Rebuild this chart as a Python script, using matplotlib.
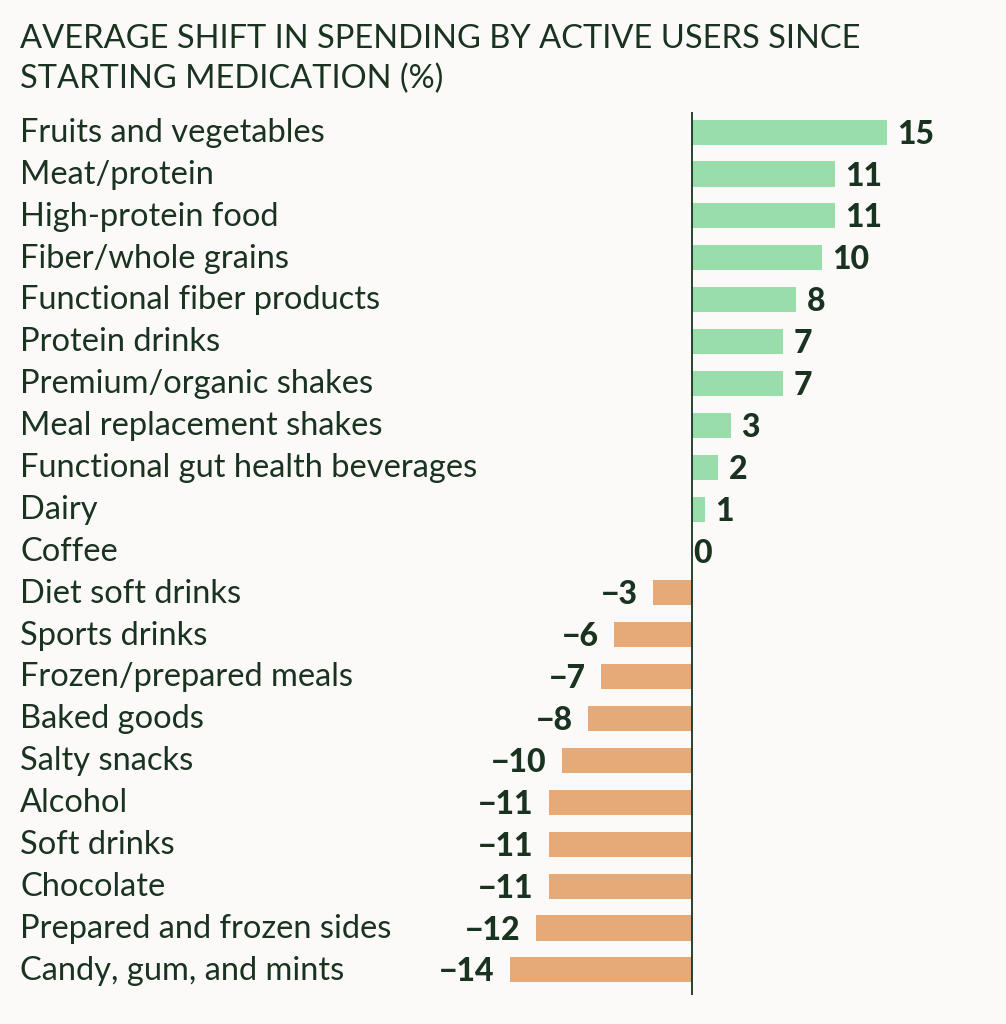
import matplotlib
matplotlib.use("Agg")
import matplotlib.pyplot as plt

categories = ["Fruits and vegetables", "Meat/protein", "High-protein food",
              "Fiber/whole grains", "Functional fiber products", "Protein drinks",
              "Premium/organic shakes", "Meal replacement shakes",
              "Functional gut health beverages", "Dairy", "Coffee",
              "Diet soft drinks", "Sports drinks", "Frozen/prepared meals",
              "Baked goods", "Salty snacks", "Alcohol", "Soft drinks",
              "Chocolate", "Prepared and frozen sides", "Candy, gum, and mints"]
values = [15, 11, 11, 10, 8, 7, 7, 3, 2, 1, 0,
          -3, -6, -7, -8, -10, -11, -11, -11, -12, -14]
title_lines = ["AVERAGE SHIFT IN SPENDING BY ACTIVE USERS SINCE",
               "STARTING MEDICATION (%)"]

BG = "#FBFAF8"
TXT = "#1A3320"
POS = "#99DDAA"
NEG = "#E5AA78"

W, H = 1006, 1024

def main():
    fig = plt.figure(figsize=(W / 100, H / 100), dpi=100, facecolor=BG)
    top, bot = 112, 995
    ax = fig.add_axes([0, 1 - bot / H, 1, (bot - top) / H])
    ax.set_facecolor(BG)

    px = 13.0
    zero = 692
    ax.set_xlim(-zero / px, (W - zero) / px)
    ax.set_ylim(20.6, -0.48)

    ys = list(range(len(categories)))
    colors = [POS if v >= 0 else NEG for v in values]
    ax.barh(ys, values, height=0.6, color=colors)
    ax.axvline(0, color=TXT, lw=1.3)

    for y, cat, v in zip(ys, categories, values):
        ax.text(20 / W, y + 0.02, cat, transform=ax.get_yaxis_transform(),
                ha="left", va="center", fontsize=23.5, color=TXT, family="Lato")
        if v > 0:
            ax.text(v + 0.8, y + 0.05, str(v), ha="left", va="center", fontsize=23,
                    fontweight="black", color=TXT, family="Lato")
        elif v == 0:
            ax.text(0.1, y + 0.05, "0", ha="left", va="center", fontsize=23,
                    fontweight="black", color=TXT, family="Lato")
        else:
            ax.text(v - 1.2, y + 0.05, "\u2212" + str(abs(v)), ha="right", va="center",
                    fontsize=23, fontweight="black", color=TXT, family="Lato")

    for s in ax.spines.values():
        s.set_visible(False)
    ax.set_xticks([])
    ax.set_yticks([])

    # two title lines, baselines ~48px and ~88px from top
    for i, line in enumerate(title_lines):
        fig.text(20 / W, 1 - (48 + 40 * i) / H, line, ha="left", va="baseline",
                 fontsize=23.5, color=TXT, family="Lato")

    fig.savefig("out.png", dpi=100, facecolor=BG)

if __name__ == "__main__":
    main()
